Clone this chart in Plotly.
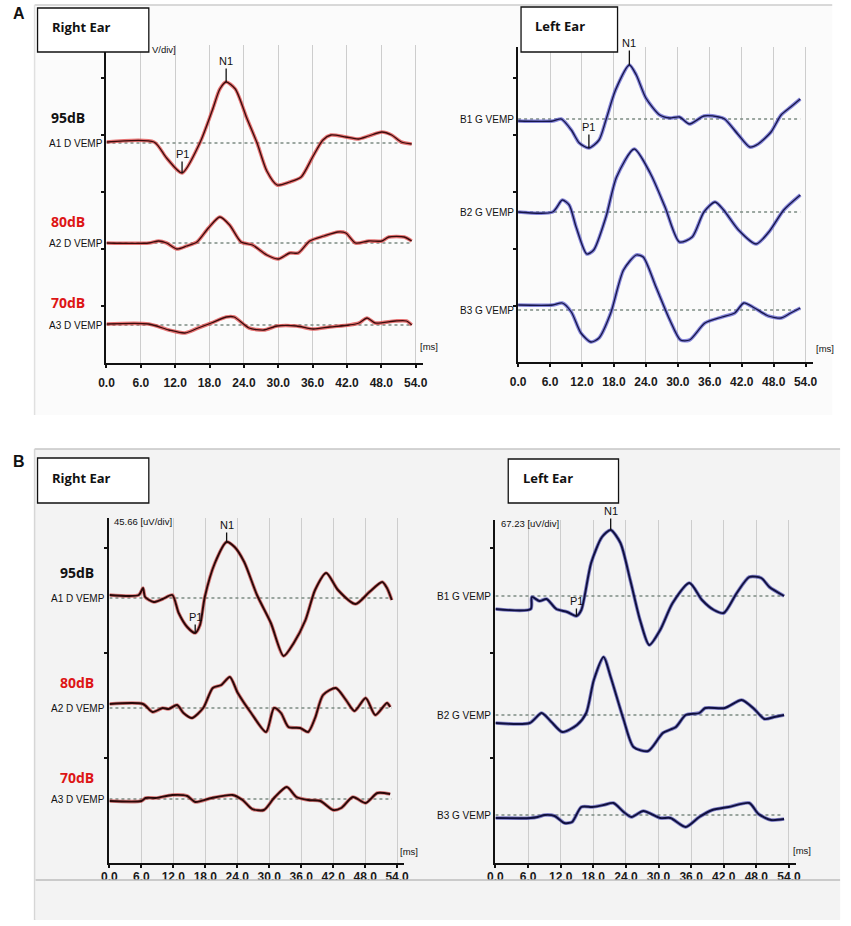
import plotly.graph_objects as go

# ---------------- data (time in ms, amplitude in display units, + = up) ----------------
ticks_ms = [0, 6, 12, 18, 24, 30, 36, 42, 48, 54]
tick_labels = ["0.0", "6.0", "12.0", "18.0", "24.0", "30.0", "36.0", "42.0", "48.0", "54.0"]

# Panel A - Right ear
a_r1_t = [0, 8.3, 10.5, 13.2, 16.3, 18.5, 19.8, 20.9, 22.5, 24.5, 26.3, 28.0, 29.8, 32.0, 34.0, 36.0, 37.8, 39.2, 41.8, 44.0, 45.8, 48.1, 49.8, 51.5, 53.3]
a_r1_v = [1, 1, -15, -30, 0, 33, 54, 61, 54, 25, 0, -28, -42, -39, -34, -14, 3, 8, 6, 4, 7, 11, 8, 1, -1]
a_r2_t = [0, 7.4, 9.1, 10.5, 12.3, 14, 15.8, 17.8, 19.8, 21.5, 23.5, 25.5, 28, 30, 32, 33.5, 35.5, 38, 40.4, 41.8, 43.5, 45.8, 48.1, 49.3, 52, 53.3]
a_r2_v = [0, 0, 2, 0, -6, -3, 1, 15, 26, 18, 1, -2, -12, -16, -10, -10, 2, 7, 11, 10, 0, 2, 2, 6, 6, 2]
a_r3_t = [0, 7.4, 10.9, 13.7, 16, 18.3, 20.9, 22.3, 24.9, 27.5, 29.8, 33.2, 36.1, 39, 42.4, 44.1, 45.5, 46.9, 50.4, 52.4, 53.3]
a_r3_v = [1, 1, -5, -8, -3, 2, 8, 8, -3, -5, -1, -1, -4, -2, 0, 2, 7, 2, 4, 4, 0]

# Panel A - Left ear
a_l1_t = [0, 6.5, 8.1, 10, 11.5, 13.3, 15.2, 16.5, 18.3, 20.9, 22.2, 24, 26.6, 28.5, 30.3, 32.2, 34.9, 37.7, 38.8, 41.4, 43.5, 45.1, 47.5, 49.4, 51.2, 53]
a_l1_v = [-2, -2, 0, -11, -24, -29, -21, -1, 29, 54, 44, 21, 4, 1, 2, -5, 3, 2, 0, -16, -28, -25, -13, 4, 12, 20]
a_l2_t = [0, 6.5, 8.3, 9.6, 10.9, 12.9, 14.2, 16.5, 18.5, 21.8, 24.8, 27.6, 30.3, 32.7, 34.9, 37, 38.6, 41.4, 44.7, 47.1, 49.9, 53]
a_l2_v = [0, 0, 12, 7, -15, -42, -38, -5, 35, 63, 39, 5, -30, -25, 0, 10, 2, -18, -32, -20, 2, 17]
a_l3_t = [0, 6.5, 8.3, 10, 11.8, 13.7, 15.2, 17.4, 19.8, 22.2, 23.5, 25.9, 28.5, 30.5, 32.2, 35.1, 38.3, 40.7, 42.4, 44.4, 47, 49.4, 51.2, 53]
a_l3_v = [5, 5, 7, -2, -23, -32, -28, -3, 40, 55, 53, 23, -10, -30, -30, -13, -7, -3, 7, 2, -6, -8, -3, 2]

# Panel B - Right ear
b_r1_t = [0, 5.5, 6.3, 6.7, 8.3, 10, 11.8, 13, 14.6, 16.1, 17, 17.9, 19.8, 22, 23.5, 25.3, 27.7, 30.3, 32.7, 34.6, 36.8, 38.6, 40.7, 42.9, 46.2, 48.8, 51.2, 52.1, 53]
b_r1_v = [3, 3, 10, 1, -4, -1, 3, -15, -29, -35, -27, 1, 35, 56, 51, 36, 3, -25, -58, -45, -22, 8, 25, 8, -6, 6, 16, 10, -2]
b_r2_t = [0, 6.3, 8.1, 10, 11.1, 12.7, 13.9, 15.5, 17.6, 19.4, 21, 22.6, 24.1, 26.6, 29.4, 30.9, 32.2, 33.6, 35.8, 37.3, 38.6, 40.1, 42.5, 44.4, 46, 48.1, 49.9, 52.1, 52.7]
b_r2_v = [4, 4, -4, 0, -1, 3, -5, -10, 0, 20, 23, 31, 15, -5, -24, 0, -5, -19, -20, -24, -10, 13, 20, 8, -3, 10, -7, 5, 1]
b_r3_t = [0, 6, 6.8, 8.7, 11.8, 14.6, 16.1, 19.2, 23.1, 25, 26.8, 29, 30.9, 33.3, 35.1, 37.3, 39.6, 42, 43.5, 45.7, 48.1, 50.3, 52.7]
b_r3_v = [-2, -2, 1, 1, 4, 3, -3, 1, 4, -1, -10, -11, 1, 12, 2, -1, -2, -11, -9, 2, -4, 6, 5]

# Panel B - Left ear
b_l1_t = [0, 6.5, 6.7, 8.1, 9.4, 11.2, 13.2, 14.9, 15.8, 17.6, 19.6, 21.2, 23, 24.8, 26.6, 28.3, 30.3, 32.6, 35.7, 38, 40.2, 42, 44.4, 46.7, 48.9, 50.4, 53.1]
b_l1_v = [-13, -13, -1, -5, -3, -13, -16, -20, -14, 33, 59, 66, 53, 16, -24, -49, -34, -7, 13, -4, -14, -17, 3, 19, 18, 9, 0]
b_l2_t = [0, 6.3, 8.5, 10.3, 12.3, 15, 16.7, 18.1, 19.9, 21.2, 23.6, 25.4, 28.1, 30.8, 33.2, 35, 37.5, 38.6, 42.2, 45.3, 47.6, 49.5, 51.3, 53.1]
b_l2_v = [-8, -8, 2, -7, -17, -10, 2, 35, 58, 38, -5, -32, -36, -18, -12, 0, 2, 7, 7, 15, 6, -4, -2, 0]
b_l3_t = [0, 6.5, 7.8, 9.1, 10.9, 12.7, 14.1, 15.8, 17.8, 19.9, 21.7, 23.6, 25, 27.2, 30.3, 32.2, 35, 37.5, 39.9, 42.9, 46.7, 48.4, 50.7, 53.1]
b_l3_v = [-3, -3, -2, 0, -1, -8, -7, 8, 8, 10, 12, 3, -2, 4, -3, -3, -12, -2, 5, 8, 12, 1, -5, -4]

# ---------------- layout geometry ----------------
W, H = 851, 926
NARROW = "Liberation Sans Narrow, Liberation Sans, Arial, sans-serif"
BOLD = "Open Sans, Liberation Sans, sans-serif"

def px(x):
    return x / W

def py(y):
    return 1 - y / H

panels = [
    dict(ax="", left=100, scale=5.815, top=45, bottom=363, yt=[57, 114, 171, 228, 285], stand=5,
         glow="rgba(222,70,70,0.75)", core="#3a0c0c", cw=1.3,
         traces=[(a_r1_t, a_r1_v, 220), (a_r2_t, a_r2_v, 120), (a_r3_t, a_r3_v, 38)],
         names=["A1 D VEMP", "A2 D VEMP", "A3 D VEMP"], dot_end=53.3),
    dict(ax="2", left=518, scale=5.407, top=47, bottom=362, yt=[56, 113, 170, 227, 284], stand=5,
         glow="rgba(95,95,205,0.75)", core="#16164a", cw=1.3,
         traces=[(a_l1_t, a_l1_v, 243), (a_l2_t, a_l2_v, 150), (a_l3_t, a_l3_v, 52)],
         names=["B1 G VEMP", "B2 G VEMP", "B3 G VEMP"], dot_end=53.0),
    dict(ax="3", left=103, scale=5.41, top=518, bottom=863, yt=[105, 210, 315], stand=-1,
         glow="rgba(200,60,60,0.65)", core="#2a0808", cw=1.9,
         traces=[(b_r1_t, b_r1_v, 265), (b_r2_t, b_r2_v, 155), (b_r3_t, b_r3_v, 64)],
         names=["A1 D VEMP", "A2 D VEMP", "A3 D VEMP"], dot_end=53.0),
    dict(ax="4", left=495, scale=5.52, top=520, bottom=863, yt=[105, 210, 315], stand=-1,
         glow="rgba(80,80,180,0.7)", core="#10103f", cw=1.9,
         traces=[(b_l1_t, b_l1_v, 267), (b_l2_t, b_l2_v, 148), (b_l3_t, b_l3_v, 48)],
         names=["B1 G VEMP", "B2 G VEMP", "B3 G VEMP"], dot_end=53.0),
]

XMAX = 55.3
fig = go.Figure()
layout_axes = {}
annotations = []

for p in panels:
    xa, ya = "x" + p["ax"], "y" + p["ax"]
    right = p["left"] + XMAX * p["scale"]
    hpx = p["bottom"] - p["top"]
    layout_axes["xaxis" + p["ax"]] = dict(
        domain=[px(p["left"]), px(right)], range=[0, XMAX], anchor=ya,
        tickvals=ticks_ms, ticktext=tick_labels, showgrid=True, gridcolor="#cdcdcd", gridwidth=1,
        showline=True, linecolor="#111111", linewidth=2, ticks="outside", ticklen=3, tickwidth=2,
        tickcolor="#111111", zeroline=False, ticklabelstandoff=p["stand"],
        tickfont=dict(family="Liberation Sans, Arial, sans-serif", size=12, color="#1a1a1a",
                      weight="bold"))
    layout_axes["yaxis" + p["ax"]] = dict(
        domain=[py(p["bottom"]), py(p["top"])], range=[0, hpx], anchor=xa,
        showgrid=False, showline=True, linecolor="#111111", linewidth=2, ticks="outside",
        ticklen=3, tickwidth=2, tickcolor="#111111", tickvals=p["yt"], showticklabels=False,
        zeroline=False)
    for (t, v, base), name in zip(p["traces"], p["names"]):
        fig.add_trace(go.Scatter(x=[0, p["dot_end"]], y=[base, base], mode="lines",
                                 line=dict(color="#7d8c84", width=1.5, dash="dot"),
                                 xaxis=xa, yaxis=ya, hoverinfo="skip"))
        yy = [base + a for a in v]
        fig.add_trace(go.Scatter(x=t, y=yy, mode="lines",
                                 line=dict(color=p["glow"], width=3.6, shape="spline", smoothing=0.7),
                                 xaxis=xa, yaxis=ya, hoverinfo="skip"))
        fig.add_trace(go.Scatter(x=t, y=yy, mode="lines",
                                 line=dict(color=p["core"], width=p["cw"], shape="spline", smoothing=0.7),
                                 xaxis=xa, yaxis=ya))
        annotations.append(dict(x=px(p["left"] - 2), xref="paper", y=base, yref=ya,
                                text=name, showarrow=False, xanchor="right", yanchor="middle",
                                font=dict(family=NARROW, size=10, color="#111111")))

# peak markers (N1 / P1)
peaks = [
    ("", a_r1_t, a_r1_v, 220, 20.9, "N1", -21), ("", a_r1_t, a_r1_v, 220, 13.2, "P1", -19),
    ("2", a_l1_t, a_l1_v, 243, 20.9, "N1", -22), ("2", a_l1_t, a_l1_v, 243, 13.3, "P1", -21),
    ("3", b_r1_t, b_r1_v, 265, 22.0, "N1", -17), ("3", b_r1_t, b_r1_v, 265, 16.1, "P1", -16),
    ("4", b_l1_t, b_l1_v, 267, 21.2, "N1", -19), ("4", b_l1_t, b_l1_v, 267, 14.9, "P1", -15),
]
for ax, t, v, base, tp, lab, off in peaks:
    val = base + v[t.index(tp)]
    annotations.append(dict(x=tp, y=val, xref="x" + ax, yref="y" + ax, text=lab,
                            showarrow=True, arrowhead=0, arrowwidth=1.3, arrowcolor="#111111",
                            ax=0, ay=off, standoff=0,
                            font=dict(family=NARROW, size=11, color="#111111")))

db_labels = [("95dB", 61, 118, "#111111"), ("80dB", 61, 222, "#dd1515"), ("70dB", 61, 302, "#dd1515"),
             ("95dB", 70, 572, "#111111"), ("80dB", 70, 682, "#dd1515"), ("70dB", 70, 777, "#dd1515")]
for txt, x, y, c in db_labels:
    annotations.append(dict(x=px(x), y=py(y), xref="paper", yref="paper", text="<b>" + txt + "</b>",
                            showarrow=False, xanchor="center", yanchor="middle",
                            font=dict(family=BOLD, size=14, color=c)))

small = [("[ms]", 416, 347), ("[ms]", 819, 348), ("[ms]", 396, 851),
         ("[ms]", 795, 850), ("V/div]", 144, 49),
         ("45.66 [uV/div]", 106, 521), ("67.23 [uV/div]", 499, 523)]
for txt, x, y in small:
    annotations.append(dict(x=px(x), y=py(y), xref="paper", yref="paper", text=txt,
                            showarrow=False, xanchor="left", yanchor="middle",
                            font=dict(family=NARROW, size=9.5, color="#111111")))

boxes = [(30, 143, 8, 52, "Right Ear", 43, 27), (521, 619, 7, 52, "Left Ear", 533, 26),
         (30, 143, 458, 503, "Right Ear", 43, 478), (508, 620, 459, 503, "Left Ear", 521, 478)]
shapes = [
    dict(type="rect", xref="paper", yref="paper", x0=px(27), x1=px(837), y0=py(415), y1=py(5),
         fillcolor="#fbfbfb", line=dict(width=0), layer="below"),
    dict(type="line", xref="paper", yref="paper", x0=px(27), x1=px(837), y0=py(5), y1=py(5),
         line=dict(color="#cccccc", width=1.5), layer="below"),
    dict(type="line", xref="paper", yref="paper", x0=px(27), x1=px(27), y0=py(415), y1=py(5),
         line=dict(color="#e0e0e0", width=1.5), layer="below"),
    dict(type="rect", xref="paper", yref="paper", x0=px(27), x1=px(845), y0=py(920), y1=py(449),
         fillcolor="#f3f3f3", line=dict(width=0), layer="below"),
    dict(type="line", xref="paper", yref="paper", x0=px(27), x1=px(845), y0=py(449), y1=py(449),
         line=dict(color="#c6c6c6", width=1.5), layer="below"),
    dict(type="line", xref="paper", yref="paper", x0=px(27), x1=px(27), y0=py(920), y1=py(449),
         line=dict(color="#d6d6d6", width=1.5), layer="below"),
    dict(type="rect", xref="paper", yref="paper", x0=px(28), x1=px(845), y0=py(919), y1=py(880),
         fillcolor="#f3f3f3", line=dict(width=0), layer="above"),
    dict(type="line", xref="paper", yref="paper", x0=px(28), x1=px(845), y0=py(880), y1=py(880),
         line=dict(color="#bdbdbd", width=1.5), layer="above"),
]
for x0, x1, y0, y1, txt, tx, ty in boxes:
    shapes.append(dict(type="rect", xref="paper", yref="paper", x0=px(x0), x1=px(x1), y0=py(y1), y1=py(y0),
                       fillcolor="white", line=dict(color="#111111", width=1.3), layer="above"))
    annotations.append(dict(x=px(tx), y=py(ty), xref="paper", yref="paper", text="<b>" + txt + "</b>",
                            showarrow=False, xanchor="left", yanchor="middle",
                            font=dict(family=BOLD, size=13, color="#111111")))

for txt, x, y in [("A", 11, 14), ("B", 11, 462)]:
    annotations.append(dict(x=px(x), y=py(y), xref="paper", yref="paper", text="<b>" + txt + "</b>",
                            showarrow=False, xanchor="center", yanchor="middle",
                            font=dict(family="Liberation Sans, Arial, sans-serif", size=16, color="#111111")))

fig.update_layout(width=W, height=H, margin=dict(l=0, r=0, t=0, b=0), showlegend=False,
                  paper_bgcolor="white", plot_bgcolor="rgba(0,0,0,0)", hovermode=False,
                  annotations=annotations, shapes=shapes, **layout_axes)
# remove the default page margin so the figure sits exactly in the window
fig.write_html("out.html", config={"displayModeBar": False},
               post_script="document.body.style.margin='0px';document.body.style.overflow='hidden';")
